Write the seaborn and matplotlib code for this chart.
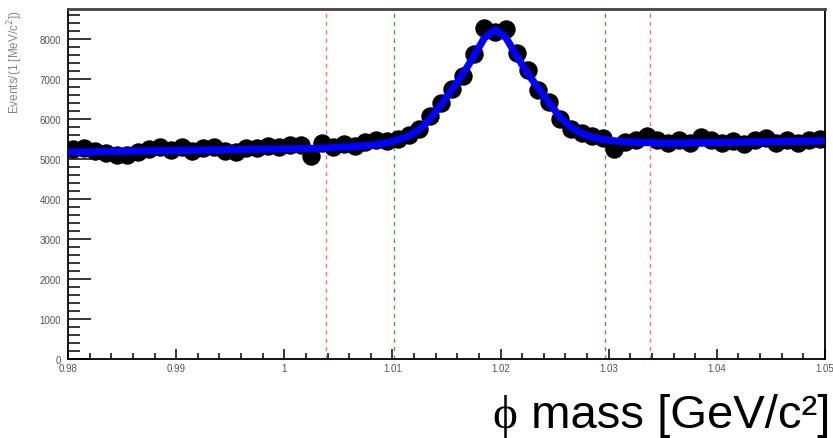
import numpy as np
import pandas as pd
import matplotlib
matplotlib.use("Agg")
import matplotlib.pyplot as plt
from matplotlib.ticker import MultipleLocator, FixedLocator
import seaborn as sns

# ---- data ----
mass_lo, mass_hi, bin_w = 0.98, 1.05, 0.001
events = [5250, 5280, 5200, 5140, 5090, 5110, 5170, 5260, 5300, 5230,
          5290, 5190, 5270, 5310, 5200, 5170, 5270, 5280, 5320, 5290,
          5340, 5360, 5080, 5400, 5300, 5370, 5330, 5430, 5480, 5450,
          5490, 5600, 5760, 6080, 6400, 6760, 7080, 7620, 8270, 8180,
          8240, 7640, 7220, 6720, 6420, 5990, 5760, 5650, 5570, 5530,
          5240, 5420, 5470, 5570, 5480, 5410, 5470, 5390, 5540, 5470,
          5390, 5440, 5380, 5480, 5520, 5410, 5470, 5400, 5480, 5490]
fit_vals = [5175, 5179, 5183, 5187, 5191, 5195, 5199, 5203, 5207, 5211,
            5215, 5219, 5223, 5227, 5231, 5235, 5239, 5243, 5247, 5251,
            5255, 5259, 5263, 5267, 5285, 5297, 5314, 5335, 5365, 5407,
            5475, 5575, 5738, 6003, 6355, 6736, 7117, 7556, 8024, 8231,
            8032, 7572, 7141, 6768, 6395, 6051, 5794, 5639, 5547, 5487,
            5453, 5431, 5418, 5410, 5406, 5395, 5399, 5403, 5407, 5411,
            5415, 5419, 5423, 5427, 5431, 5435, 5439, 5443, 5447, 5451]
fit_edge_vals = [5173, 5453]   # fit value at 0.98 and 1.05
red_lines = [1.0039, 1.0338]
green_lines = [1.0101, 1.0297]
x_ticks = [0.98, 0.99, 1.00, 1.01, 1.02, 1.03, 1.04, 1.05]
x_tick_labels = ["0.98", "0.99", "1", "1.01", "1.02", "1.03", "1.04", "1.05"]
y_ticks = [0, 1000, 2000, 3000, 4000, 5000, 6000, 7000, 8000]
y_label = "Events/(1 [MeV/c$^2$])"

centers = mass_lo + bin_w * (np.arange(len(events)) + 0.5)
df = pd.DataFrame({"mass": centers, "events": events})
fit_df = pd.DataFrame({
    "mass": np.concatenate([[mass_lo], centers, [mass_hi]]),
    "fit": [fit_edge_vals[0]] + fit_vals + [fit_edge_vals[1]],
})

sns.set_style("white")
plt.rcParams["font.family"] = ["Liberation Sans", "DejaVu Sans"]

fig = plt.figure(figsize=(8.33, 4.39), dpi=100)
ax = fig.add_axes([68 / 833, 1 - 360 / 439, (825 - 68) / 833, 350 / 439])

# guide lines
for xv in red_lines:
    ax.axvline(xv, color="#ff6b6b", lw=1.0, ls=(0, (3, 3)), zorder=1)
for xv in green_lines:
    ax.axvline(xv, color="#3fae3f", lw=1.0, ls=(0, (3, 3)), zorder=1)

# data points with errors
ax.errorbar(df["mass"], df["events"], yerr=2.0 * np.sqrt(df["events"]),
            fmt="none", ecolor="black", elinewidth=1.6, zorder=2)
sns.scatterplot(data=df, x="mass", y="events", ax=ax, color="black",
                s=150, edgecolor="black", linewidth=1.0, zorder=3, legend=False)
# fit
sns.lineplot(data=fit_df, x="mass", y="fit", ax=ax, color="#0000ff",
             lw=5.2, zorder=4, legend=False)

ax.set_xlim(mass_lo, mass_hi)
ax.set_ylim(0, 8750)
ax.set_xlabel("")
ax.set_ylabel("")

ax.xaxis.set_major_locator(FixedLocator(x_ticks))
ax.set_xticklabels(x_tick_labels)
ax.xaxis.set_minor_locator(MultipleLocator(0.002))
ax.yaxis.set_major_locator(FixedLocator(y_ticks))
ax.yaxis.set_minor_locator(MultipleLocator(200))

ax.tick_params(axis="x", which="major", direction="in", length=7.2, width=1.1,
               color="black", labelsize=7, labelcolor="#555555", pad=3,
               bottom=True, top=False)
ax.tick_params(axis="x", which="minor", direction="in", length=4.3, width=1.1,
               color="black", bottom=True, top=False)
ax.tick_params(axis="y", which="major", direction="in", length=16.5, width=1.1,
               color="black", labelsize=7, labelcolor="#555555", pad=5,
               left=True, right=False)
ax.tick_params(axis="y", which="minor", direction="in", length=8.6, width=1.1,
               color="black", left=True, right=False)

for side in ["left", "right", "bottom"]:
    ax.spines[side].set_color("black")
    ax.spines[side].set_linewidth(1.3)
ax.spines["top"].set_color("#444444")
ax.spines["top"].set_linewidth(2.0)

fig.text(15 / 833, 1 - 10 / 439, y_label, rotation=90, ha="center", va="top",
         fontsize=8.5, color="#888888")

# big x title at bottom right
t_main = fig.text(830 / 833, 1 - 428 / 439, " mass [GeV/c²]", ha="right",
                  va="baseline", fontsize=34, family="Liberation Sans",
                  color="black")
fig.canvas.draw()
bb = t_main.get_window_extent(renderer=fig.canvas.get_renderer())
fig.text(bb.x0 / fig.bbox.width, 1 - 428 / 439, "ϕ", ha="right",
         va="baseline", fontsize=34, family="Liberation Serif", color="black")

fig.savefig("out.png", dpi=100)
